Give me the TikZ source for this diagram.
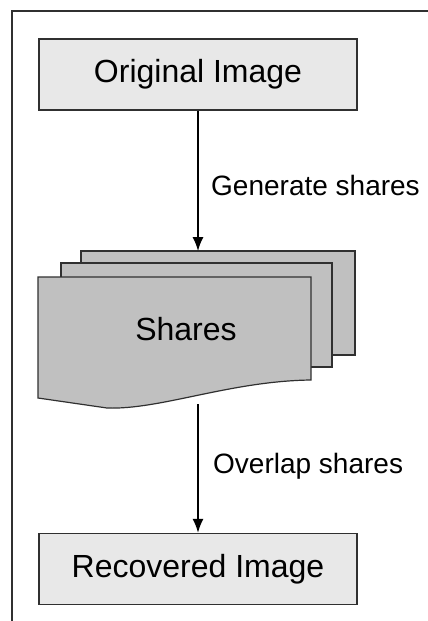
\documentclass[tikz,border=0pt]{standalone}
\usepackage{fontspec}
\setmainfont{Liberation Sans}
\usetikzlibrary{arrows.meta}
\definecolor{boxfill}{HTML}{E8E8E8}
\definecolor{sharefill}{HTML}{C0C0C0}
\definecolor{edge}{HTML}{303030}
\tikzset{
  x=1pt, y=-1pt,
  procbox/.style={draw=edge, line width=1.4pt, fill=boxfill, minimum width=318pt,
    minimum height=71pt, inner sep=0pt, font=\fontsize{32}{38}\selectfont},
  sheet/.style={draw=edge, line width=1.2pt, fill=sharefill, line join=miter},
  flow/.style={draw=black, line width=1.4pt, -{Latex[length=14pt,width=11pt]}},
  steplabel/.style={anchor=base west, inner sep=0pt, font=\fontsize{28}{34}\selectfont},
}
\begin{document}
\begin{tikzpicture}
\useasboundingbox (0,0) rectangle (428,621);
\clip (0,0) rectangle (428,621);
\fill[white] (0,0) rectangle (428,621);
% outer frame
\draw[edge, line width=1.8pt] (12,640) -- (12,11) -- (450,11);

% process boxes
\node[procbox] (orig) at (198,74.5) {Original Image};
\node[procbox] (recov) at (198,569) {Recovered Image};

% stack of share sheets
\draw[sheet] (81,251) rectangle (355,355);
\draw[sheet] (61,263) rectangle (332,367);
\draw[sheet] (38,277) -- (311,277) -- (311,380)
  .. controls (230,381) and (160,410) .. (107,408)
  -- (38,398) -- cycle;
\node[inner sep=0pt, font=\fontsize{32}{38}\selectfont] (shares) at (186,329) {Shares};
\coordinate (stacktop) at (198,251);
\coordinate (stackbot) at (198,404);

% connectors
\draw[flow] (orig.south) -- (stacktop);
\draw[flow] (stackbot) -- (recov.north);

% connector labels
\node[steplabel] (genlbl) at (211,195) {Generate shares};
\node[steplabel] (ovllbl) at (213,473) {Overlap shares};
\end{tikzpicture}
\end{document}
